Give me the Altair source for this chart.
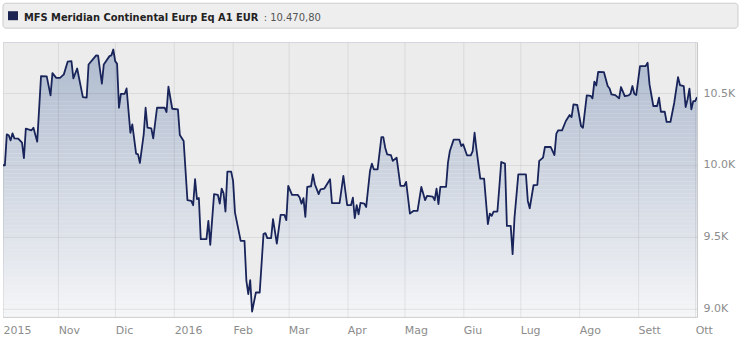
import altair as alt
import numpy as np
import pandas as pd
from datetime import date, timedelta

fund_name = "MFS Meridian Continental Eurp Eq A1 EUR"
last_value_label = ": 10.470,80"

# days since 2015-10-01 and fund value (EUR)
day_offsets = [2, 3, 4, 5, 6, 7, 8, 10, 12, 13, 14, 17, 18, 20, 22, 25, 27, 28, 30, 32,
               34, 36, 38, 39, 41, 44, 46, 47, 51, 52, 54, 55, 58, 59, 60, 61, 62, 63, 64, 66,
               67, 69, 70, 72, 73, 74, 76, 77, 78, 80, 81, 83, 87, 88, 89, 91, 94, 95, 97, 99,
               101, 102, 103, 104, 105, 106, 109, 110, 111, 113, 115, 116, 117, 118, 119, 120, 122, 123, 124, 127,
               129, 130, 131, 132, 133, 135, 137, 139, 140, 141, 143, 144, 146, 148, 150, 151, 152, 154, 157, 158,
               159, 160, 161, 162, 164, 165, 166, 168, 169, 171, 174, 175, 179, 181, 183, 185, 186, 187, 188, 189,
               190, 192, 193, 195, 196, 197, 199, 201, 202, 203, 204, 206, 207, 209, 211, 213, 214, 216, 218, 220,
               222, 224, 225, 228, 229, 230, 231, 232, 235, 236, 237, 239, 242, 243, 244, 246, 248, 249, 250, 251,
               253, 255, 257, 258, 259, 260, 262, 263, 264, 266, 267, 269, 270, 271, 273, 277, 278, 279, 281, 283,
               284, 286, 287, 290, 292, 293, 294, 296, 298, 300, 301, 302, 304, 306, 307, 309, 311, 312, 313, 314,
               315, 318, 320, 321, 322, 324, 326, 327, 329, 331, 332, 333, 334, 335, 337, 340, 341, 342, 344, 346,
               347, 348, 350, 351, 353, 355, 357, 358, 360, 361, 362, 363, 364, 365, 366, 367]
nav_values = [9998, 9998, 10213, 10207, 10171, 10220, 10185, 10183, 10155, 10047, 10252, 10241, 10259, 10162, 10618, 10616, 10484, 10639, 10606, 10606,
              10630, 10718, 10722, 10602, 10671, 10472, 10468, 10699, 10762, 10760, 10565, 10699, 10757, 10762, 10803, 10722, 10704, 10398, 10495, 10495,
              10532, 10224, 10282, 10079, 10074, 10014, 10213, 10398, 10259, 10255, 10185, 10398, 10398, 10368, 10544, 10391, 10386, 10208, 10167, 9755,
              9750, 9720, 9901, 9762, 9771, 9484, 9484, 9611, 9444, 9797, 9792, 9731, 9836, 9803, 9676, 9954, 9954, 9889, 9669, 9472,
              9472, 9194, 9102, 9199, 8981, 9113, 9113, 9519, 9526, 9491, 9491, 9623, 9453, 9653, 9653, 9616, 9854, 9792, 9792, 9773,
              9731, 9769, 9639, 9847, 9852, 9935, 9866, 9797, 9831, 9836, 9901, 9734, 9734, 9924, 9720, 9720, 9773, 9630, 9720, 9657,
              9736, 9731, 9708, 9958, 10009, 9970, 9970, 10194, 10194, 10120, 10074, 10069, 10028, 10051, 9854, 9854, 9882, 9662, 9681, 9681,
              9847, 9755, 9785, 9780, 9755, 9836, 9727, 9847, 9847, 10016, 10097, 10176, 10176, 10132, 10144, 10067, 10067, 10097, 10224, 10109,
              9905, 9905, 9588, 9662, 9646, 9676, 9676, 9843, 10021, 10009, 9576, 9576, 9380, 9634, 9935, 9935, 9750, 9699, 9859, 9861,
              10028, 10051, 10125, 10125, 10069, 10218, 10241, 10241, 10306, 10347, 10333, 10421, 10417, 10271, 10259, 10484, 10481, 10463, 10579, 10553,
              10648, 10646, 10549, 10532, 10491, 10486, 10463, 10542, 10479, 10484, 10495, 10549, 10495, 10486, 10688, 10688, 10711, 10560, 10410, 10410,
              10468, 10370, 10370, 10299, 10299, 10433, 10611, 10556, 10549, 10403, 10456, 10530, 10387, 10444, 10444, 10471]

tick_dates = ["2015-10-03", "2015-11-01", "2015-12-01", "2016-01-01", "2016-02-01", "2016-03-01",
              "2016-04-01", "2016-05-01", "2016-06-01", "2016-07-01", "2016-08-01", "2016-09-01", "2016-10-01"]
tick_labels = ["2015", "Nov", "Dic", "2016", "Feb", "Mar", "Apr", "Mag", "Giu", "Lug", "Ago", "Sett", "Ott"]
y_ticks = [9000, 9500, 10000, 10500]
y_domain = [8944, 10854]

origin = date(2015, 10, 1)
dates = [(origin + timedelta(days=d)).isoformat() for d in day_offsets]
df = pd.DataFrame({"date": dates, "nav": nav_values})


def ms(s):
    return int(pd.Timestamp(s, tz="UTC").timestamp() * 1000)


tick_ms = [ms(s) for s in tick_dates]
conds = []
for s, lab in zip(tick_dates, tick_labels):
    ts = pd.Timestamp(s)
    conds.append(f"(utcyear(datum.value)=={ts.year} && utcmonth(datum.value)=={ts.month - 1} && utcdate(datum.value)=={ts.day}) ? '{lab}'")
label_expr = " : ".join(conds) + " : ''"

label_font = "DejaVu Sans"
y_scale = alt.Scale(domain=y_domain, nice=False, zero=False)
y_axis = alt.Axis(orient="right", values=y_ticks, labelExpr="format(datum.value/1000, '.1f') + 'K'",
                  grid=True, gridColor="#000000", gridOpacity=0.08, domain=False, ticks=False, labelPadding=6,
                  labelFont=label_font, labelFontSize=11, labelColor="#8c8c8c", zindex=1)

x_enc = alt.X(
    "date:T",
    title=None,
    scale=alt.Scale(type="utc", domain=[ms(dates[0]), ms(dates[-1])]),
    axis=alt.Axis(values=tick_ms, labelExpr=label_expr, grid=True, gridColor="#000000", gridOpacity=0.08,
                  domain=False, ticks=False, labelAlign="left", labelPadding=8,
                  labelFont=label_font, labelFontSize=11, labelColor="#8c8c8c",
                  labelFlush=False, labelOverlap=False, labelBound=False, zindex=1),
)
y_enc = alt.Y("nav:Q", title=None, scale=y_scale, axis=y_axis, stack=None)

# vertical colour fade under the line, built from thin horizontal bands (style only)
n_bands = 69
stops = [(0.0, (172, 185, 205)), (0.5, (207, 214, 225)), (1.0, (245, 246, 248))]


def fade(t):
    for (t0, c0), (t1, c1) in zip(stops[:-1], stops[1:]):
        if t <= t1:
            f = (t - t0) / (t1 - t0)
            return "#%02x%02x%02x" % tuple(int(round(a + (b - a) * f)) for a, b in zip(c0, c1))
    return "#%02x%02x%02x" % stops[-1][1]


edges = np.linspace(y_domain[1], y_domain[0], n_bands + 1)
bands = pd.DataFrame({
    "top": edges[:-1],
    "bottom": edges[1:],
    "col": [fade((i + 0.5) / n_bands) for i in range(n_bands)],
})

band_layer = alt.Chart(bands).mark_rect(strokeWidth=0).encode(
    x=alt.value(0), x2=alt.value(695),
    y=alt.Y("top:Q", scale=y_scale, axis=y_axis, title=None),
    y2="bottom:Q",
    fill=alt.Fill("col:N", scale=None),
)

base = alt.Chart(df)
cover = base.mark_area(fill="#ececec", clip=True).encode(x=x_enc, y=y_enc, y2=alt.value(0))
line = base.mark_line(color="#18245a", strokeWidth=1.8, clip=True, strokeJoin="round").encode(x=x_enc, y=y_enc)

hdr = pd.DataFrame({"name": [fund_name], "val": [last_value_label]})
box = alt.Chart(hdr).mark_rect(fill="#eeeeee", stroke="#cccccc", cornerRadius=3).encode(
    x=alt.value(0), x2=alt.value(736), y=alt.value(-39), y2=alt.value(-14))
square = alt.Chart(hdr).mark_rect(fill="#1a2352").encode(
    x=alt.value(5), x2=alt.value(15), y=alt.value(-31), y2=alt.value(-22))
t_name = alt.Chart(hdr).mark_text(align="left", baseline="alphabetic", font=label_font, fontSize=9.9,
                                  fontWeight="bold", color="#222222").encode(
    x=alt.value(21), y=alt.value(-21), text="name:N")
t_val = alt.Chart(hdr).mark_text(align="left", baseline="alphabetic", font=label_font, fontSize=10,
                                 color="#555555").encode(
    x=alt.value(261), y=alt.value(-21), text="val:N")

chart = alt.layer(box, square, t_name, t_val, band_layer, cover, line).properties(
    width=695, height=275,
    padding={"left": 2, "top": 2, "right": 3, "bottom": 2},
    background="white",
).configure_view(fill="#ececec", stroke="#c8c8c8", strokeWidth=1)

chart.save("out.html", embed_options={"renderer": "svg", "actions": False})
